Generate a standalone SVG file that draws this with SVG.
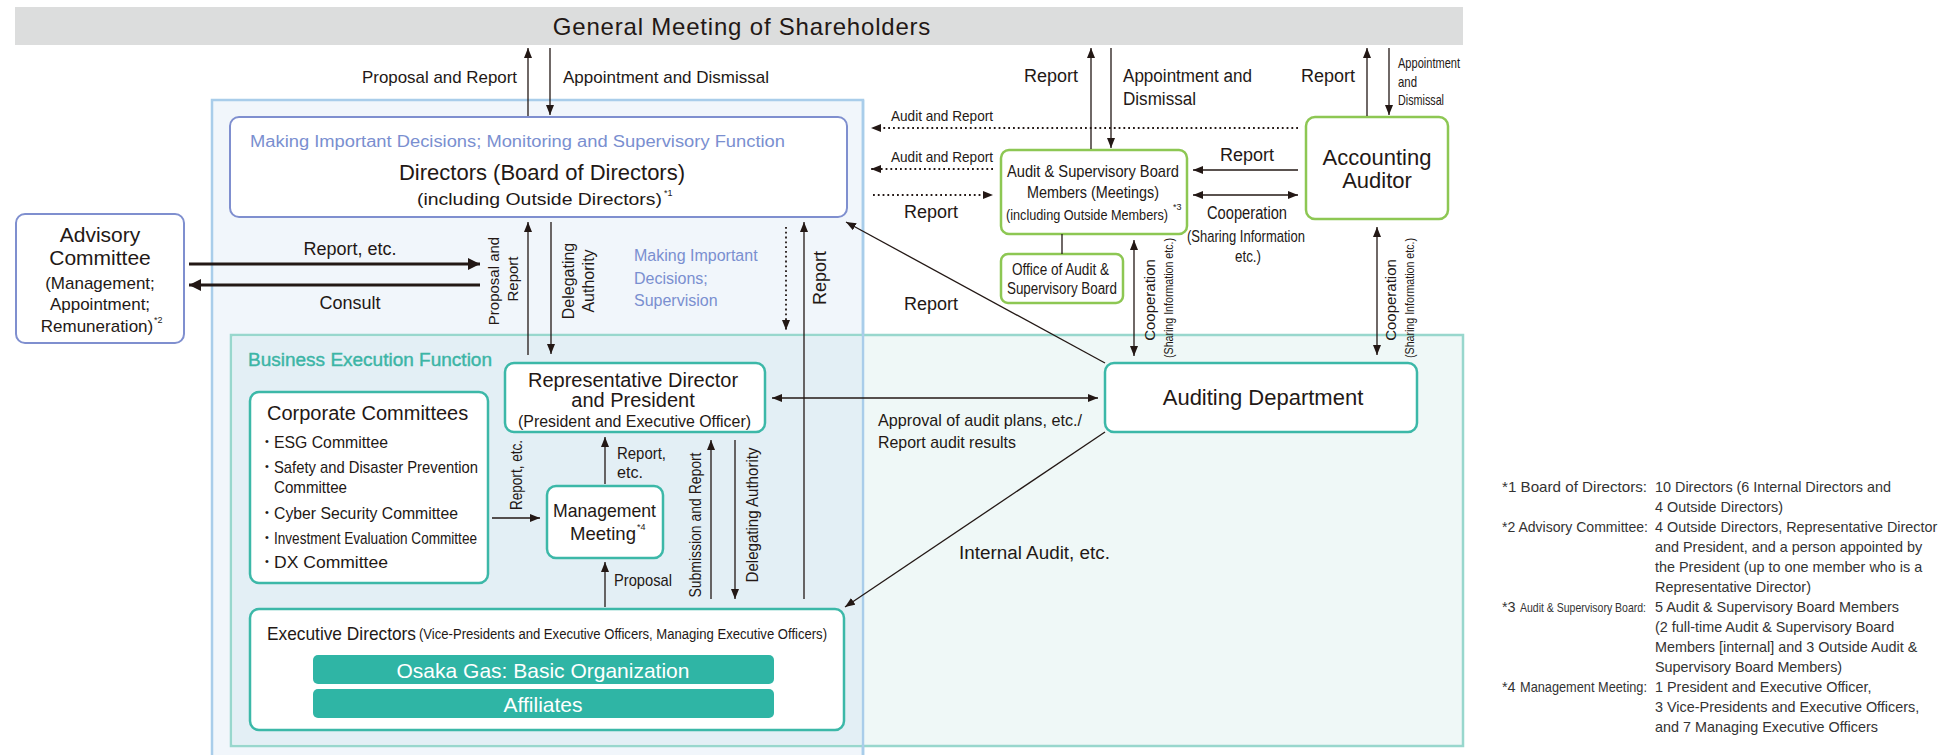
<svg xmlns="http://www.w3.org/2000/svg" width="1957" height="755" viewBox="0 0 1957 755">
<defs>
<style>
.t{font-family:"Liberation Sans",Arial,sans-serif;fill:#231815;dominant-baseline:central}
.m{text-anchor:middle}
.e{text-anchor:end}
.blue{fill:#7a8fd0}
.ln{stroke:#231815;stroke-width:1.3;fill:none}
.thick{stroke:#231815;stroke-width:3;fill:none}
.dot{stroke:#231815;stroke-width:1.8;stroke-dasharray:1.8 3;fill:none}
.nb{fill:#fff;stroke:#7f8fcf;stroke-width:2}
.ng{fill:#fff;stroke:#8dc753;stroke-width:2.5}
.nt{fill:#fff;stroke:#3cb8a8;stroke-width:2.5}
.bar{fill:#2fb5a5}
.fn{font-family:"Liberation Sans",Arial,sans-serif;fill:#333;font-size:14.4px;dominant-baseline:central}
</style>
<marker id="a" viewBox="0 0 10 8" refX="10" refY="4" markerWidth="10" markerHeight="8" markerUnits="userSpaceOnUse" orient="auto-start-reverse"><path d="M0,0L10,4L0,8z" fill="#231815"/></marker>
<marker id="ab" viewBox="0 0 12 12" refX="12" refY="6" markerWidth="13" markerHeight="12" markerUnits="userSpaceOnUse" orient="auto-start-reverse"><path d="M0,0L12,6L0,12z" fill="#231815"/></marker>
</defs>
<rect x="0" y="0" width="1957" height="755" fill="#fff"/>

<g id="shareholders">
<rect x="15" y="7" width="1448" height="38" fill="#dcdddd"/>
<text class="t m" x="742" y="26" font-size="24" letter-spacing="0.8">General Meeting of Shareholders</text>
</g>

<g id="regions">
<rect x="212" y="100" width="651" height="670" fill="#f1f6fb" stroke="#a9cdea" stroke-width="2.5"/>
<rect x="231" y="335" width="1232" height="411" fill="#eff8f7" stroke="#98d7cd" stroke-width="2.5"/>
<rect x="232.5" y="336.5" width="629" height="408" fill="#e3eff5"/>
<line x1="863" y1="100" x2="863" y2="760" stroke="#a9cdea" stroke-width="2.5"/>
<text class="t" x="248" y="360" font-size="18" textLength="244" lengthAdjust="spacingAndGlyphs" style="fill:#3cb5a6;stroke:#3cb5a6;stroke-width:0.4">Business Execution Function</text>
<text class="t blue" x="634" y="255" font-size="16">Making Important</text>
<text class="t blue" x="634" y="278" font-size="16">Decisions;</text>
<text class="t blue" x="634" y="300" font-size="16">Supervision</text>
</g>

<g id="directors">
<rect class="nb" x="230" y="117" width="617" height="100" rx="9"/>
<text class="t blue" x="250" y="141" font-size="16" textLength="535" lengthAdjust="spacingAndGlyphs">Making Important Decisions; Monitoring and Supervisory Function</text>
<text class="t m" x="542" y="172" font-size="22">Directors (Board of Directors)</text>
<text class="t" x="417" y="199" font-size="17" textLength="245" lengthAdjust="spacingAndGlyphs">(including Outside Directors)</text>
<text class="t" x="664" y="193" font-size="9">*1</text>
</g>

<g id="advisory">
<rect class="nb" x="16" y="214" width="168" height="129" rx="9"/>
<text class="t m" x="100" y="234" font-size="21">Advisory</text>
<text class="t m" x="100" y="257" font-size="21">Committee</text>
<text class="t m" x="100" y="283" font-size="17">(Management;</text>
<text class="t m" x="100" y="304" font-size="17">Appointment;</text>
<text class="t m" x="97" y="326" font-size="17">Remuneration)</text>
<text class="t" x="154" y="320" font-size="9">*2</text>
</g>

<g id="asb">
<rect class="ng" x="1001" y="150" width="186" height="84" rx="8"/>
<text class="t" x="1007" y="171" font-size="17" textLength="172" lengthAdjust="spacingAndGlyphs">Audit &amp; Supervisory Board</text>
<text class="t" x="1027" y="192" font-size="17" textLength="132" lengthAdjust="spacingAndGlyphs">Members (Meetings)</text>
<text class="t" x="1006" y="215" font-size="14" textLength="162" lengthAdjust="spacingAndGlyphs">(including Outside Members)</text>
<text class="t" x="1173" y="207" font-size="9">*3</text>
</g>

<g id="office">
<rect class="ng" x="1001" y="254" width="122" height="49" rx="7"/>
<text class="t" x="1012" y="269" font-size="16" textLength="97" lengthAdjust="spacingAndGlyphs">Office of Audit &amp;</text>
<text class="t" x="1007" y="288" font-size="16" textLength="110" lengthAdjust="spacingAndGlyphs">Supervisory Board</text>
</g>

<g id="accounting-auditor">
<rect class="ng" x="1306" y="117" width="142" height="102" rx="9"/>
<text class="t m" x="1377" y="157" font-size="22">Accounting</text>
<text class="t m" x="1377" y="180" font-size="22">Auditor</text>
</g>

<g id="auditing-department">
<rect class="nt" x="1105" y="363" width="312" height="69" rx="9"/>
<text class="t m" x="1263" y="397" font-size="22">Auditing Department</text>
</g>

<g id="representative-director">
<rect class="nt" x="505" y="363" width="260" height="69" rx="9"/>
<text class="t m" x="633" y="380" font-size="20">Representative Director</text>
<text class="t m" x="633" y="400" font-size="20">and President</text>
<text class="t" x="518" y="421" font-size="16" textLength="233" lengthAdjust="spacingAndGlyphs">(President and Executive Officer)</text>
</g>

<g id="corporate-committees">
<rect class="nt" x="250" y="392" width="238" height="191" rx="9"/>
<text class="t" x="267" y="413" font-size="20">Corporate Committees</text>
<g font-size="17">
<text class="t" x="265" y="441" font-size="11">•</text>
<text class="t" x="274" y="442" textLength="114" lengthAdjust="spacingAndGlyphs">ESG Committee</text>
<text class="t" x="265" y="466" font-size="11">•</text>
<text class="t" x="274" y="467" textLength="204" lengthAdjust="spacingAndGlyphs">Safety and Disaster Prevention</text>
<text class="t" x="274" y="487" textLength="73" lengthAdjust="spacingAndGlyphs">Committee</text>
<text class="t" x="265" y="512" font-size="11">•</text>
<text class="t" x="274" y="513" textLength="184" lengthAdjust="spacingAndGlyphs">Cyber Security Committee</text>
<text class="t" x="265" y="537" font-size="11">•</text>
<text class="t" x="274" y="538" textLength="203" lengthAdjust="spacingAndGlyphs">Investment Evaluation Committee</text>
<text class="t" x="265" y="561" font-size="11">•</text>
<text class="t" x="274" y="562" textLength="114" lengthAdjust="spacingAndGlyphs">DX Committee</text>
</g>
</g>

<g id="management-meeting">
<rect class="nt" x="547" y="486" width="116" height="72" rx="9"/>
<text class="t" x="553" y="510" font-size="19" textLength="103" lengthAdjust="spacingAndGlyphs">Management</text>
<text class="t" x="570" y="533" font-size="19" textLength="66" lengthAdjust="spacingAndGlyphs">Meeting</text>
<text class="t" x="637" y="527" font-size="9">*4</text>
</g>

<g id="executive-directors">
<rect class="nt" x="250" y="609" width="594" height="121" rx="9"/>
<text class="t" x="267" y="633" font-size="19" textLength="149" lengthAdjust="spacingAndGlyphs">Executive Directors</text>
<text class="t" x="419" y="634" font-size="14" textLength="408" lengthAdjust="spacingAndGlyphs">(Vice-Presidents and Executive Officers, Managing Executive Officers)</text>
<rect class="bar" x="313" y="655" width="461" height="29" rx="5"/>
<text class="t m" x="543" y="670" font-size="21" style="fill:#fff">Osaka Gas: Basic Organization</text>
<rect class="bar" x="313" y="689" width="461" height="29" rx="5"/>
<text class="t m" x="543" y="704" font-size="21" style="fill:#fff">Affiliates</text>
</g>

<g id="connectors">
<line class="ln" x1="528" y1="116" x2="528" y2="48" marker-end="url(#a)"/>
<line class="ln" x1="550" y1="48" x2="550" y2="115" marker-end="url(#a)"/>
<line class="ln" x1="1091" y1="149" x2="1091" y2="48" marker-end="url(#a)"/>
<line class="ln" x1="1111" y1="48" x2="1111" y2="148" marker-end="url(#a)"/>
<line class="ln" x1="1367" y1="116" x2="1367" y2="48" marker-end="url(#a)"/>
<line class="ln" x1="1389" y1="48" x2="1389" y2="115" marker-end="url(#a)"/>
<line class="dot" x1="1298" y1="128" x2="871" y2="128" marker-end="url(#a)"/>
<line class="dot" x1="993" y1="169" x2="871" y2="169" marker-end="url(#a)"/>
<line class="dot" x1="873" y1="195" x2="993" y2="195" marker-end="url(#a)"/>
<line class="ln" x1="1298" y1="170" x2="1193" y2="170" marker-end="url(#a)"/>
<line class="ln" x1="1193" y1="195" x2="1298" y2="195" marker-start="url(#a)" marker-end="url(#a)"/>
<line class="ln" x1="1062" y1="234" x2="1062" y2="254"/>
<line class="ln" x1="1134" y1="240" x2="1134" y2="356" marker-start="url(#a)" marker-end="url(#a)"/>
<line class="ln" x1="1377" y1="227" x2="1377" y2="355" marker-start="url(#a)" marker-end="url(#a)"/>
<line class="ln" x1="1105" y1="363" x2="846" y2="222" marker-end="url(#a)"/>
<line class="thick" x1="189" y1="264" x2="480" y2="264" marker-end="url(#ab)"/>
<line class="thick" x1="480" y1="285" x2="189" y2="285" marker-end="url(#ab)"/>
<line class="ln" x1="528" y1="355" x2="528" y2="222" marker-end="url(#a)"/>
<line class="ln" x1="551" y1="222" x2="551" y2="354" marker-end="url(#a)"/>
<line class="dot" x1="786" y1="227" x2="786" y2="330" marker-end="url(#a)"/>
<line class="ln" x1="804" y1="599" x2="804" y2="222" marker-end="url(#a)"/>
<line class="ln" x1="772" y1="398" x2="1098" y2="398" marker-start="url(#a)" marker-end="url(#a)"/>
<line class="ln" x1="1105" y1="432" x2="845" y2="607" marker-end="url(#a)"/>
<line class="ln" x1="492" y1="518" x2="540" y2="518" marker-end="url(#a)"/>
<line class="ln" x1="605" y1="484" x2="605" y2="437" marker-end="url(#a)"/>
<line class="ln" x1="605" y1="607" x2="605" y2="562" marker-end="url(#a)"/>
<line class="ln" x1="711" y1="599" x2="711" y2="440" marker-end="url(#a)"/>
<line class="ln" x1="735" y1="440" x2="735" y2="599" marker-end="url(#a)"/>
</g>

<g id="connector-labels">
<text class="t e" x="517" y="77" font-size="17" textLength="155" lengthAdjust="spacingAndGlyphs">Proposal and Report</text>
<text class="t" x="563" y="77" font-size="17" textLength="206" lengthAdjust="spacingAndGlyphs">Appointment and Dismissal</text>
<text class="t e" x="1078" y="76" font-size="18">Report</text>
<text class="t" x="1123" y="76" font-size="18" textLength="129" lengthAdjust="spacingAndGlyphs">Appointment and</text>
<text class="t" x="1123" y="99" font-size="18" textLength="73" lengthAdjust="spacingAndGlyphs">Dismissal</text>
<text class="t e" x="1355" y="76" font-size="18">Report</text>
<text class="t" x="1398" y="62" font-size="15" textLength="62" lengthAdjust="spacingAndGlyphs">Appointment</text>
<text class="t" x="1398" y="81" font-size="15" textLength="19" lengthAdjust="spacingAndGlyphs">and</text>
<text class="t" x="1398" y="99" font-size="15" textLength="46" lengthAdjust="spacingAndGlyphs">Dismissal</text>
<text class="t" x="891" y="115" font-size="15" textLength="102" lengthAdjust="spacingAndGlyphs">Audit and Report</text>
<text class="t" x="891" y="156" font-size="15" textLength="102" lengthAdjust="spacingAndGlyphs">Audit and Report</text>
<text class="t" x="904" y="212" font-size="18">Report</text>
<text class="t" x="904" y="304" font-size="18">Report</text>
<text class="t m" x="1247" y="155" font-size="18">Report</text>
<text class="t m" x="1247" y="213" font-size="18" textLength="80" lengthAdjust="spacingAndGlyphs">Cooperation</text>
<text class="t m" x="1246" y="236" font-size="17" textLength="118" lengthAdjust="spacingAndGlyphs">(Sharing Information</text>
<text class="t m" x="1248" y="256" font-size="17" textLength="26" lengthAdjust="spacingAndGlyphs">etc.)</text>
<text class="t m" transform="translate(1149,300) rotate(-90)" font-size="15">Cooperation</text>
<text class="t m" transform="translate(1168,298) rotate(-90)" font-size="13" textLength="120" lengthAdjust="spacingAndGlyphs">(Sharing Information etc.)</text>
<text class="t m" transform="translate(1390,300) rotate(-90)" font-size="15">Cooperation</text>
<text class="t m" transform="translate(1409,298) rotate(-90)" font-size="13" textLength="120" lengthAdjust="spacingAndGlyphs">(Sharing Information etc.)</text>
<text class="t m" x="350" y="249" font-size="18">Report, etc.</text>
<text class="t m" x="350" y="303" font-size="18">Consult</text>
<text class="t m" transform="translate(493,281) rotate(-90)" font-size="15">Proposal and</text>
<text class="t m" transform="translate(512,279) rotate(-90)" font-size="15">Report</text>
<text class="t m" transform="translate(568,281) rotate(-90)" font-size="16">Delegating</text>
<text class="t m" transform="translate(588,281) rotate(-90)" font-size="16">Authority</text>
<text class="t m" transform="translate(820,278) rotate(-90)" font-size="18">Report</text>
<text class="t" x="878" y="420" font-size="17" textLength="204" lengthAdjust="spacingAndGlyphs">Approval of audit plans, etc./</text>
<text class="t" x="878" y="442" font-size="17" textLength="138" lengthAdjust="spacingAndGlyphs">Report audit results</text>
<text class="t" x="959" y="553" font-size="18" textLength="151" lengthAdjust="spacingAndGlyphs">Internal Audit, etc.</text>
<text class="t m" transform="translate(516,475) rotate(-90)" font-size="16" textLength="70" lengthAdjust="spacingAndGlyphs">Report, etc.</text>
<text class="t" x="617" y="453" font-size="17" textLength="49" lengthAdjust="spacingAndGlyphs">Report,</text>
<text class="t" x="617" y="472" font-size="17" textLength="26" lengthAdjust="spacingAndGlyphs">etc.</text>
<text class="t" x="614" y="580" font-size="17" textLength="58" lengthAdjust="spacingAndGlyphs">Proposal</text>
<text class="t m" transform="translate(695,525) rotate(-90)" font-size="16" textLength="145" lengthAdjust="spacingAndGlyphs">Submission and Report</text>
<text class="t m" transform="translate(752,515) rotate(-90)" font-size="16" textLength="135" lengthAdjust="spacingAndGlyphs">Delegating Authority</text>
</g>

<g id="footnotes">
<text class="fn" x="1502" y="487" textLength="145" lengthAdjust="spacingAndGlyphs">*1 Board of Directors:</text>
<text class="fn" x="1655" y="487">10 Directors (6 Internal Directors and</text>
<text class="fn" x="1655" y="507">4 Outside Directors)</text>
<text class="fn" x="1502" y="527" textLength="146" lengthAdjust="spacingAndGlyphs">*2 Advisory Committee:</text>
<text class="fn" x="1655" y="527">4 Outside Directors, Representative Director</text>
<text class="fn" x="1655" y="547">and President, and a person appointed by</text>
<text class="fn" x="1655" y="567">the President (up to one member who is a</text>
<text class="fn" x="1655" y="587">Representative Director)</text>
<text class="fn" x="1502" y="607">*3</text>
<text class="fn" x="1520" y="607" style="font-size:13px" textLength="126" lengthAdjust="spacingAndGlyphs">Audit &amp; Supervisory Board:</text>
<text class="fn" x="1655" y="607">5 Audit &amp; Supervisory Board Members</text>
<text class="fn" x="1655" y="627">(2 full-time Audit &amp; Supervisory Board</text>
<text class="fn" x="1655" y="647">Members [internal] and 3 Outside Audit &amp;</text>
<text class="fn" x="1655" y="667">Supervisory Board Members)</text>
<text class="fn" x="1502" y="687">*4</text>
<text class="fn" x="1520" y="687" textLength="127" lengthAdjust="spacingAndGlyphs">Management Meeting:</text>
<text class="fn" x="1655" y="687">1 President and Executive Officer,</text>
<text class="fn" x="1655" y="707">3 Vice-Presidents and Executive Officers,</text>
<text class="fn" x="1655" y="727">and 7 Managing Executive Officers</text>
</g>
</svg>
